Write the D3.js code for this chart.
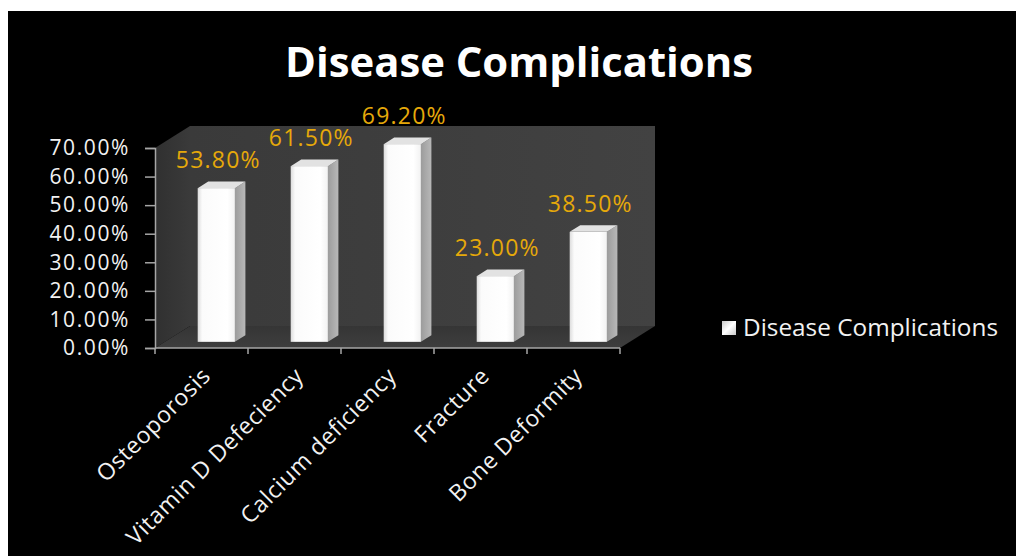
<!DOCTYPE html>
<html>
<head>
<meta charset="utf-8">
<script src="https://cdn.jsdelivr.net/npm/d3@7/dist/d3.min.js"></script>
<style>
  html, body { margin: 0; padding: 0; background: #fff; }
  svg { display: block; }
  text { font-family: "Open Sans", "Noto Sans", sans-serif; }
</style>
</head>
<body>
<svg id="chart" width="1016" height="556"></svg>
<script>
// Chart data
const categories = ["Osteoporosis", "Vitamin D Defeciency", "Calcium deficiency", "Fracture", "Bone Deformity"];
const values = [53.8, 61.5, 69.2, 23.0, 38.5];
const yTicks = [0, 10, 20, 30, 40, 50, 60, 70];
const seriesName = "Disease Complications";
const chartTitle = "Disease Complications";

const svg = d3.select("#chart");

// Dark panel
svg.append("rect").attr("x", 8).attr("y", 11).attr("width", 1008).attr("height", 545).attr("fill", "#000");

// Plot geometry (front plane of the 3D box plus depth offset)
const x = d3.scaleBand().domain(categories).range([155, 620]);
const y = d3.scaleLinear().domain([0, 70]).range([348, 148]);
const DX = 35, DY = -22;          // depth vector of the box
const z0 = 0.28, z1 = 0.58;       // bar depth span (fraction of the box)
const barW = x.bandwidth() * 0.4;
const barShift = 5;

const defs = svg.append("defs");
const lg = (id, stops, x2 = "100%", y2 = "0%") => {
  const g = defs.append("linearGradient").attr("id", id).attr("x1", "0%").attr("y1", "0%").attr("x2", x2).attr("y2", y2);
  stops.forEach(([o, c]) => g.append("stop").attr("offset", o).attr("stop-color", c));
};
lg("wallBack", [["0%", "#3a3a3a"], ["100%", "#424242"]]);
lg("wallSide", [["0%", "#303030"], ["100%", "#3a3a3a"]]);
lg("floor", [["0%", "#353535"], ["100%", "#3e3e3e"]], "0%", "100%");
lg("barFront", [["0%", "#dcdcdc"], ["12%", "#fbfbfb"], ["80%", "#ffffff"], ["100%", "#f2f2f2"]]);
lg("barSide", [["0%", "#9c9c9c"], ["100%", "#b8b8b8"]]);
lg("legendSq", [["0%", "#c8c8c8"], ["50%", "#ffffff"], ["100%", "#c8c8c8"]], "100%", "100%");

const [x0, x1] = x.range();
const yb = y(0), yt = y(70);
const pt = (px, py, z) => [px + z * DX, py + z * DY];
const poly = pts => pts.map(p => p.join(",")).join(" ");

// Walls and floor
svg.append("polygon").attr("fill", "url(#wallSide)")
  .attr("points", poly([pt(x0, yb, 0), pt(x0, yt, 0), pt(x0, yt, 1), pt(x0, yb, 1)]));
svg.append("polygon").attr("fill", "url(#wallBack)")
  .attr("points", poly([pt(x0, yt, 1), pt(x1, yt, 1), pt(x1, yb, 1), pt(x0, yb, 1)]));
svg.append("polygon").attr("fill", "url(#floor)")
  .attr("points", poly([pt(x0, yb, 0), pt(x1, yb, 0), pt(x1, yb, 1), pt(x0, yb, 1)]));

// Axes
const axisColor = "#a6a6a6";
const gy = svg.append("g").attr("transform", `translate(${x0},0)`)
  .call(d3.axisLeft(y).tickValues(yTicks).tickSize(10).tickPadding(15).tickFormat(d => d.toFixed(2) + "%"));
gy.select(".domain").attr("stroke", axisColor).attr("stroke-width", 1.5);
gy.selectAll(".tick line").attr("stroke", axisColor).attr("stroke-width", 1.5);
gy.selectAll(".tick text").attr("fill", "#f2f2f2").attr("font-size", 21).attr("font-family", "Open Sans")
  .attr("letter-spacing", 1.6);

const gx = svg.append("g");
gx.append("line").attr("x1", x0).attr("x2", x1).attr("y1", yb).attr("y2", yb)
  .attr("stroke", axisColor).attr("stroke-width", 1.5);
const bounds = categories.map(c => x(c)).concat([x1]);
gx.selectAll(".xtick").data(bounds).join("line").attr("class", "xtick")
  .attr("x1", d => d).attr("x2", d => d).attr("y1", yb).attr("y2", yb + 6)
  .attr("stroke", axisColor).attr("stroke-width", 1.5);
gx.selectAll(".xlabel").data(categories).join("text").attr("class", "xlabel")
  .attr("transform", d => `translate(${x(d) + x.bandwidth() / 2 - 1},${yb + 18}) rotate(-45)`)
  .attr("text-anchor", "end").attr("dy", "0.7em")
  .attr("fill", "#f2f2f2").attr("font-size", 23).attr("letter-spacing", 0.6)
  .text(d => d);

// Bars
const bars = svg.append("g").selectAll("g").data(categories.map((c, i) => ({ c, v: values[i] }))).join("g");
const bx = d => x(d.c) + (x.bandwidth() - barW) / 2 + barShift;
bars.append("polygon").attr("fill", "url(#barSide)")
  .attr("points", d => poly([pt(bx(d) + barW, y(d.v), z0), pt(bx(d) + barW, y(d.v), z1), pt(bx(d) + barW, yb, z1), pt(bx(d) + barW, yb, z0)]));
bars.append("polygon").attr("fill", "#e2e2e2")
  .attr("points", d => poly([pt(bx(d), y(d.v), z0), pt(bx(d), y(d.v), z1), pt(bx(d) + barW, y(d.v), z1), pt(bx(d) + barW, y(d.v), z0)]));
bars.append("rect").attr("fill", "url(#barFront)")
  .attr("x", d => pt(bx(d), 0, z0)[0]).attr("y", d => pt(0, y(d.v), z0)[1])
  .attr("width", barW).attr("height", d => yb - y(d.v));

// Value labels
bars.append("text")
  .attr("x", d => pt(bx(d) + barW / 2, 0, z0)[0] + 2)
  .attr("y", d => pt(0, y(d.v), z0)[1] - 20)
  .attr("text-anchor", "middle").attr("fill", "#e6a90a").attr("font-size", 23).attr("letter-spacing", 1.2)
  .text(d => d.v.toFixed(2) + "%");

// Title
svg.append("text").attr("x", 519).attr("y", 77).attr("text-anchor", "middle")
  .attr("fill", "#fff").attr("font-weight", "bold").attr("font-size", 41)
  .attr("textLength", 468).attr("lengthAdjust", "spacingAndGlyphs")
  .text(chartTitle);

// Legend
const leg = svg.append("g").attr("transform", "translate(722,321)");
leg.append("rect").attr("width", 14).attr("height", 14).attr("fill", "url(#legendSq)");
leg.append("text").attr("x", 21).attr("y", 15).attr("fill", "#f2f2f2").attr("font-size", 23)
  .attr("textLength", 255).attr("lengthAdjust", "spacingAndGlyphs")
  .text(seriesName);
</script>
</body>
</html>
